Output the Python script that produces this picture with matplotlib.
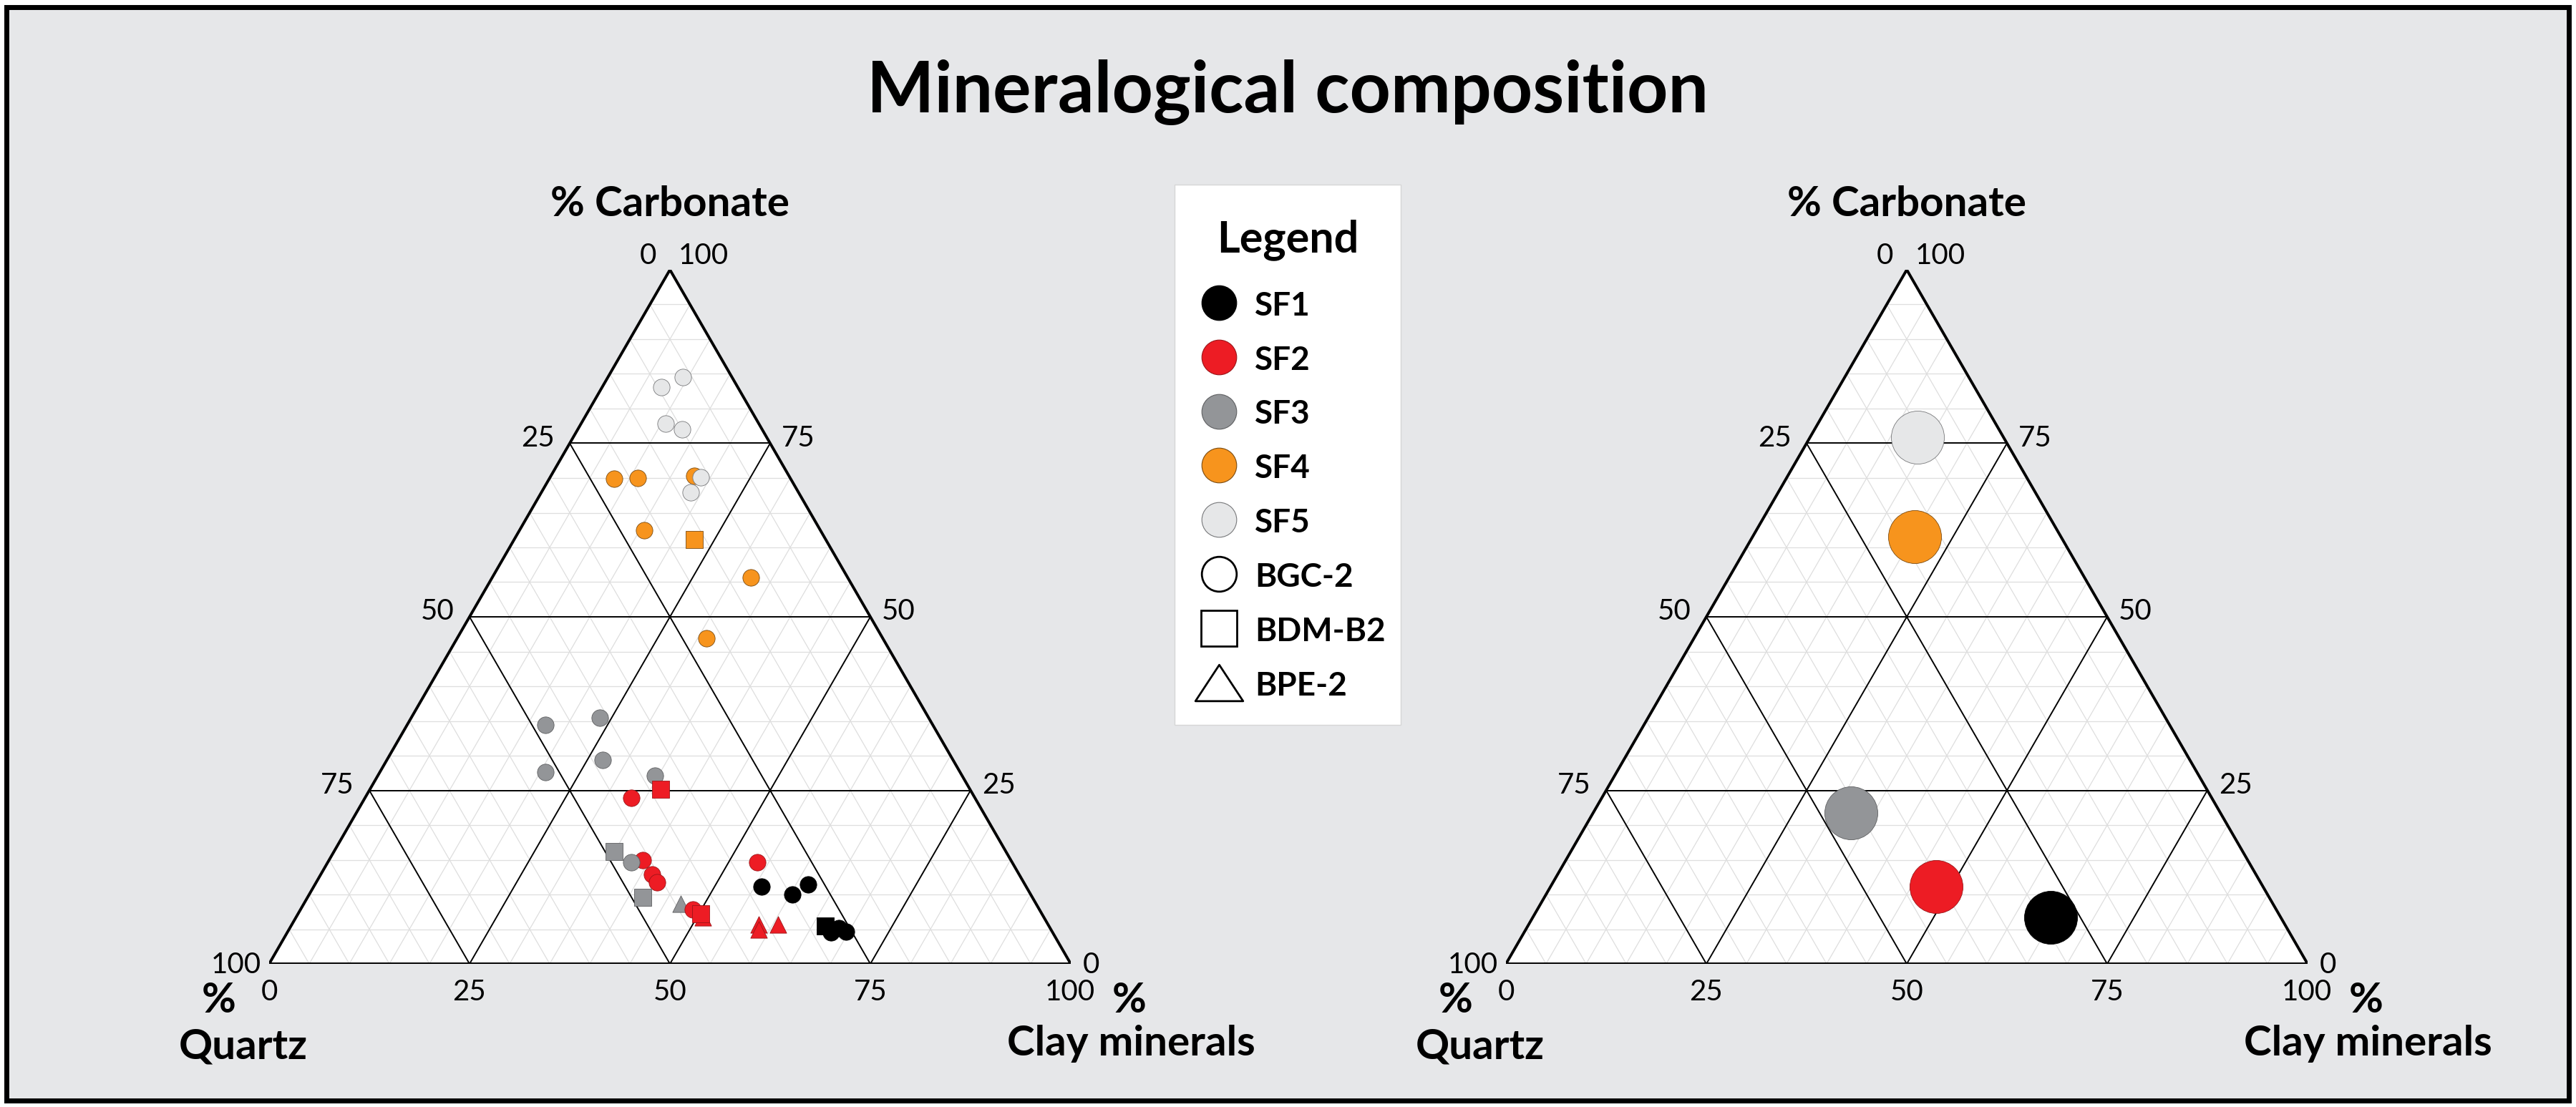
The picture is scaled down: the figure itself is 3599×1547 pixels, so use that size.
"""Ternary diagrams of mineralogical composition (carbonate / quartz / clay)."""

import numpy as np
import matplotlib
matplotlib.use("Agg")
import matplotlib.pyplot as plt
from matplotlib.patches import Polygon, Rectangle
from matplotlib.path import Path

plt.rcParams["font.family"] = ["Lato", "DejaVu Sans"]

# ---- data: % carbonate and % clay minerals per sample (quartz = remainder) ----
facies = ["SF1", "SF2", "SF3", "SF4", "SF5"]
wells = ["BGC-2", "BDM-B2", "BPE-2"]

sf1_carb = [11.1, 10.0, 11.4, 5.5, 4.5, 5.2, 4.6]
sf1_clay = [55.9, 60.3, 61.5, 66.6, 67.8, 68.5, 69.7]
sf1_well = ["BGC-2", "BGC-2", "BGC-2", "BDM-B2", "BGC-2", "BGC-2", "BGC-2"]

sf2_carb = [23.9, 25.2, 15.0, 12.9, 11.8, 7.8, 7.2, 6.7, 14.6, 5.7, 5.0, 5.7]
sf2_clay = [33.2, 36.2, 39.1, 41.3, 42.5, 49.0, 50.2, 50.8, 53.6, 58.2, 58.6, 60.6]
sf2_well = ["BGC-2", "BDM-B2", "BGC-2", "BGC-2", "BGC-2", "BGC-2", "BDM-B2",
            "BPE-2", "BGC-2", "BPE-2", "BPE-2", "BPE-2"]

sf3_carb = [34.4, 35.5, 27.6, 29.4, 27.1, 16.2, 14.6, 9.6, 8.7]
sf3_clay = [17.3, 23.5, 20.7, 26.9, 34.6, 34.9, 37.9, 41.8, 47.0]
sf3_well = ["BGC-2", "BGC-2", "BGC-2", "BGC-2", "BGC-2", "BDM-B2", "BGC-2",
            "BDM-B2", "BPE-2"]

sf4_carb = [69.9, 70.0, 70.3, 62.5, 61.1, 55.7, 46.9]
sf4_clay = [8.1, 11.0, 17.9, 15.5, 22.5, 32.2, 31.1]
sf4_well = ["BGC-2", "BGC-2", "BGC-2", "BGC-2", "BDM-B2", "BGC-2", "BGC-2"]

sf5_carb = [83.1, 84.5, 77.8, 77.0, 70.1, 67.9]
sf5_clay = [7.4, 9.4, 10.6, 13.0, 18.8, 18.6]
sf5_well = ["BGC-2"] * 6

# mean composition per facies (right diagram)
mean_carb = [6.7, 11.1, 21.8, 61.5, 75.9]
mean_clay = [64.6, 48.1, 32.1, 20.2, 13.4]

samples = {
    "SF1": (sf1_carb, sf1_clay, sf1_well),
    "SF2": (sf2_carb, sf2_clay, sf2_well),
    "SF3": (sf3_carb, sf3_clay, sf3_well),
    "SF4": (sf4_carb, sf4_clay, sf4_well),
    "SF5": (sf5_carb, sf5_clay, sf5_well),
}

# ---- style ----
face = {"SF1": "#000000", "SF2": "#ed1c24", "SF3": "#939598",
        "SF4": "#f7941d", "SF5": "#e6e7e8"}
edge = {"SF1": "#000000", "SF2": "#9a1418", "SF3": "#5e5f61",
        "SF4": "#7a4a10", "SF5": "#77787a"}
marker = {"BGC-2": "o", "BDM-B2": "s", "BPE-2": "^"}
# drawing order (facies, well) so overlaps stack like the original
draw_order = [("SF4", "BGC-2"), ("SF4", "BDM-B2"), ("SF5", "BGC-2"),
              ("SF3", "BPE-2"), ("SF2", "BPE-2"), ("SF2", "BGC-2"),
              ("SF3", "BGC-2"), ("SF3", "BDM-B2"), ("SF2", "BDM-B2"),
              ("SF1", "BDM-B2"), ("SF1", "BGC-2")]

W, HPX = 3599, 1547
H = np.sqrt(3) / 2
PX = 1 / 1120  # one pixel in triangle units
BG = "#e6e7e9"


def tern_xy(carb, clay):
    carb = np.asarray(carb, dtype=float) / 100
    clay = np.asarray(clay, dtype=float) / 100
    return clay + carb / 2, carb * H


def draw_triangle(ax):
    ax.set_xlim(0, 1)
    ax.set_ylim(0, H)
    ax.axis("off")
    ax.add_patch(Polygon([(0, 0), (1, 0), (0.5, H)], closed=True,
                         fc="white", ec="none", zorder=0))
    for v in range(5, 100, 5):
        major = v % 25 == 0
        kw = dict(color="black", lw=1.4, zorder=2) if major else \
            dict(color="#dedede", lw=0.9, zorder=1)
        for (c1, k1), (c2, k2) in [((v, 0), (v, 100 - v)),       # carbonate
                                   ((0, v), (100 - v, v)),       # clay
                                   ((0, 100 - v), (100 - v, 0))]:  # quartz
            x, y = tern_xy([c1, c2], [k1, k2])
            ax.plot(x, y, solid_capstyle="butt", **kw)
    ax.add_patch(Polygon([(0, 0), (1, 0), (0.5, H)], closed=True,
                         fc="none", ec="black", lw=2.8, zorder=3,
                         joinstyle="miter"))

    num = dict(fontsize=29, va="baseline")
    bold = dict(fontsize=42, fontweight="bold", va="baseline", ha="center")
    for v in (25, 50, 75):
        # left side: quartz
        x, y = tern_xy(100 - v, 0)
        ax.text(x - 21 * PX, y - 4 * PX, str(v), ha="right", **num)
        # right side: carbonate
        x, y = tern_xy(v, 100 - v)
        ax.text(x + 16 * PX, y - 4 * PX, str(v), ha="left", **num)
        # bottom: clay
        x, y = tern_xy(0, v)
        ax.text(x, -51 * PX, str(v), ha="center", **num)
    # corners
    ax.text(0.5 - 31 * PX, H + 8 * PX, "0", ha="center", **num)
    ax.text(0.5 + 47 * PX, H + 8 * PX, "100", ha="center", **num)
    ax.text(-11 * PX, -13 * PX, "100", ha="right", **num)
    ax.text(0, -51 * PX, "0", ha="center", **num)
    ax.text(1 + 28 * PX, -13 * PX, "0", ha="center", **num)
    ax.text(1 - 1 * PX, -51 * PX, "100", ha="center", **num)

    ax.text(0.5, H + 75 * PX, "% Carbonate", **bold)
    ax.text(-70 * PX, -68 * PX, "%", **bold)
    ax.text(-36 * PX, -132 * PX, "Quartz", **bold)
    ax.text(1 + 82 * PX, -68 * PX, "%", **bold)
    ax.text(1 + 84 * PX, -128 * PX, "Clay minerals", **bold)


fig = plt.figure(figsize=(W / 100, HPX / 100), dpi=100)
fig.patch.set_facecolor("white")

# background, frame, title and legend in pixel coordinates
ax_bg = fig.add_axes([0, 0, 1, 1], zorder=0)
ax_bg.set_xlim(0, W)
ax_bg.set_ylim(HPX, 0)
ax_bg.axis("off")
ax_bg.add_patch(Rectangle((9.5, 9.5), W - 19, HPX - 19, fc=BG, ec="black", lw=5))
ax_bg.text(1799, 157, "Mineralogical composition", ha="center", va="baseline",
           fontsize=72, fontweight="bold")

ax_bg.add_patch(Rectangle((1641, 258), 316, 755, fc="white", ec="#d6d6d6", lw=1))
ax_bg.text(1799, 352, "Legend", ha="center", va="baseline", fontsize=44,
           fontweight="bold")
leg_tri = Path([(-1, -0.76), (1, -0.76), (0, 0.76), (-1, -0.76)],
               [Path.MOVETO, Path.LINETO, Path.LINETO, Path.CLOSEPOLY])
legend_items = [(f, "o", face[f], edge[f], 0.8, 35) for f in facies] + [
    ("BGC-2", "o", "white", "black", 2.0, 35),
    ("BDM-B2", "s", "white", "black", 2.0, 36),
    ("BPE-2", leg_tri, "white", "black", 2.0, 48),
]
for i, (lab, mk, fc, ec, mew, ms) in enumerate(legend_items):
    y = 422.7 + 75.9 * i
    ax_bg.plot(1703, y, marker=mk, ms=ms, mfc=fc, mec=ec, mew=mew, ls="none")
    ax_bg.text(1753, y + 18, lab, ha="left", va="baseline", fontsize=33,
               fontweight="bold")

# left: individual samples
ax_l = fig.add_axes([376 / W, 200 / HPX, 1120 / W, 970 / HPX], zorder=1)
draw_triangle(ax_l)
for f, w in draw_order:
    carb, clay, well = samples[f]
    sel = [i for i, ww in enumerate(well) if ww == w]
    if not sel:
        continue
    x, y = tern_xy([carb[i] for i in sel], [clay[i] for i in sel])
    ax_l.scatter(x, y, s=280, marker=marker[w], c=face[f], edgecolors=edge[f],
                 linewidths=0.6, zorder=5, clip_on=False)

# right: facies means
ax_r = fig.add_axes([2104 / W, 200 / HPX, 1120 / W, 970 / HPX], zorder=1)
draw_triangle(ax_r)
for f, c, k in zip(facies, mean_carb, mean_clay):
    x, y = tern_xy(c, k)
    ax_r.scatter(x, y, s=2840, marker="o", c=face[f], edgecolors=edge[f],
                 linewidths=0.6, zorder=5, clip_on=False)

fig.savefig("out.png", dpi=100, facecolor=fig.get_facecolor())
